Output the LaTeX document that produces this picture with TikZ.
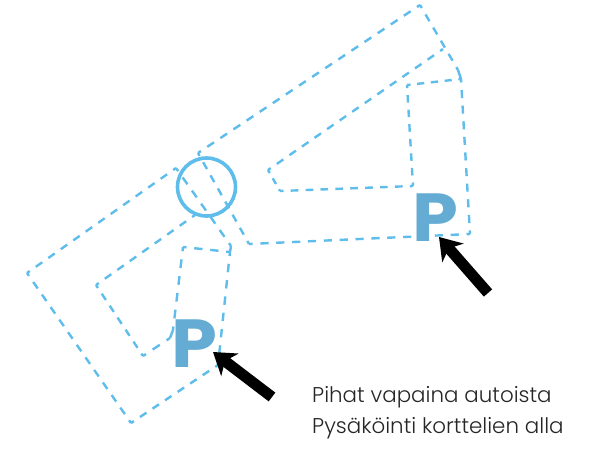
\documentclass[tikz,border=0pt]{standalone}
\usepackage{fontspec}
\setmainfont{Poppins}
\newfontfamily\lightf{Poppins}[UprightFont=* Light]
\usetikzlibrary{arrows.meta}
\definecolor{dashblue}{HTML}{5FBDEB}
\definecolor{pblue}{HTML}{64ACD3}
\tikzset{
  plan/.style={draw=dashblue,line width=2.4pt},
  ring/.style={draw=dashblue,line width=3.6pt,circle,minimum size=58pt,inner sep=0pt},
  pmark/.style={text=pblue,font=\fontsize{68}{68}\selectfont\bfseries,inner sep=0pt,anchor=base,xscale=1.08},
  pointer/.style={line width=11pt,black,-{Stealth[length=21pt,width=28pt,inset=6pt]}},
  caption/.style={font=\fontsize{21.4}{21.4}\lightf,text=black!85,inner sep=0pt,anchor=base west}
}
% one dashed edge: a short dash at each corner, whole dashes between
\newcommand\dedge[4]{%
  \pgfmathsetmacro\LL{veclen(#3-#1,#4-#2)}%
  \ifdim\LL pt<12pt
    \draw[plan] (#1,#2) -- (#3,#4);
  \else
    \pgfmathsetmacro\NN{max(1,round((\LL+1)/15.5))}%
    \pgfmathsetmacro\KK{(\LL+1)/(\NN*15.5)}%
    \pgfmathsetmacro\DD{8*\KK}%
    \pgfmathsetmacro\GG{7.5*\KK}%
    \pgfmathsetmacro\PH{\DD-3.5}%
    \draw[plan,dash pattern=on \DD pt off \GG pt,dash phase=\PH pt] (#1,#2) -- (#3,#4);
  \fi}
\begin{document}
\begin{tikzpicture}[x=1pt,y=-1pt]
\useasboundingbox (0,0) rectangle (601,448);
% left block
\dedge{176}{168}{27}{273}
\dedge{27}{273}{131}{423}
\dedge{131}{423}{218}{365}
\dedge{218}{365}{230}{252}
\dedge{230}{252}{231}{246}
\dedge{231}{246}{176}{168}
\dedge{195}{215}{96}{285}
\dedge{96}{285}{143}{356}
\dedge{143}{356}{170}{338}
\dedge{170}{338}{173}{330}
\dedge{173}{330}{183}{247}
\dedge{183}{247}{230}{252}
% right block
\dedge{198}{153}{420}{5}
\dedge{420}{5}{458}{70}
\dedge{458}{70}{461}{79}
\dedge{461}{79}{470}{234}
\dedge{470}{234}{249}{244}
\dedge{249}{244}{198}{153}
\dedge{443}{49}{268}{170}
\dedge{268}{170}{280}{191}
\dedge{280}{191}{413}{186}
\dedge{413}{186}{407}{85}
\dedge{407}{85}{461}{79}
\node[ring] (hub) at (206.5,187) {};
\node[pmark] (pleft) at (194,367) {P};
\node[pmark] (pright) at (435.5,241) {P};
\coordinate (a1s) at (272,397);
\coordinate (a1e) at (213,352);
\coordinate (a2s) at (488,293);
\coordinate (a2e) at (439,237);
\draw[pointer] (a1s) -- (a1e);
\draw[pointer] (a2s) -- (a2e);
\node[caption] (c1) at (312,402) {Pihat vapaina autoista};
\node[caption] (c2) at (312,433.5) {Pysäköinti korttelien alla};
\end{tikzpicture}
\end{document}
